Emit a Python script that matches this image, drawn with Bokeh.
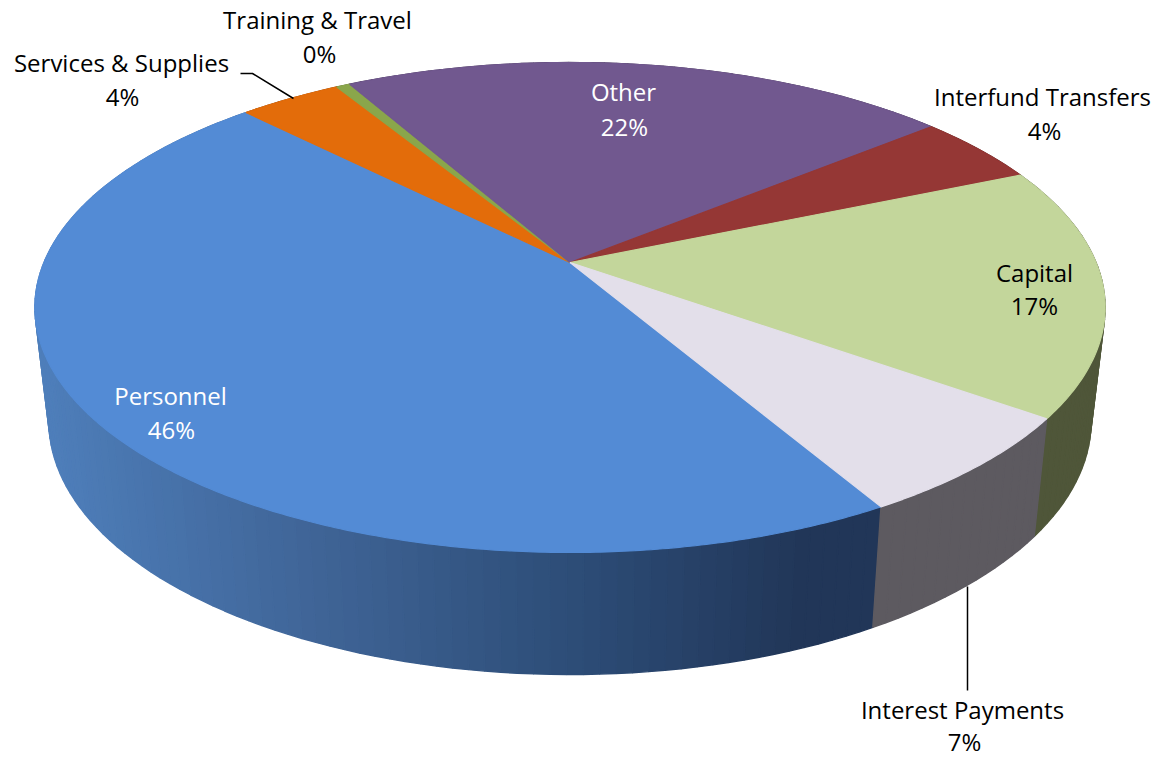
import math
from bokeh.plotting import figure
from bokeh.models import Range1d, ColumnDataSource
from bokeh.core.properties import value
from bokeh.embed import file_html
from bokeh.resources import INLINE

# ---- data ----
categories = ["Personnel", "Services & Supplies", "Training & Travel", "Other",
              "Interfund Transfers", "Capital", "Interest Payments"]
shares = [46.0, 3.7, 0.5, 22.0, 4.6, 16.5, 6.7]
percent_labels = ["46%", "4%", "0%", "22%", "4%", "17%", "7%"]

# ---- styles ----
top_colors = ["#538bd5", "#e36c0a", "#8aa64b", "#71588f", "#953735", "#c3d69b", "#e3dfea"]
side_colors = [None, "#8a4006", "#55652d", "#443557", "#5a2120", "#4f5639", "#5d5a60"]
text_colors = ["white", "black", "black", "white", "black", "black", "black"]
name_pos = [(170, 395), (121, 62), (317, 19), (623, 91), (1042, 96), (1034, 272), (962, 709)]
pct_pos = [(171, 429), (122, 96), (319, 53), (624, 126), (1044, 130), (1034, 305), (964, 741)]
FONT = "Open Sans"
FONT_SIZE = "24px"

# ---- projection of the pie's two discs ----
K = 0.1837
CX = 569.5
TOP = dict(a=526.0, b=236.7, cy=262.0)
BOT = dict(a=512.2, b=244.5, cy=374.5)
START = math.radians(29.8)


def project(angle, disc):
    u, v = math.sin(angle), math.cos(angle)
    w = 1 - K * v
    return CX + disc["a"] * u / w, disc["cy"] + disc["b"] * v / w


# personnel side gradient, by screen x
STOPS = [(50, (78, 126, 186)), (320, (63, 100, 150)), (570, (45, 77, 120)),
         (800, (33, 54, 88)), (880, (33, 54, 88))]


def gradient(x):
    if x <= STOPS[0][0]:
        c = STOPS[0][1]
    else:
        c = STOPS[-1][1]
        for (x0, c0), (x1, c1) in zip(STOPS, STOPS[1:]):
            if x0 <= x <= x1:
                t = (x - x0) / (x1 - x0)
                c = tuple(c0[i] + (c1[i] - c0[i]) * t for i in range(3))
                break
    return "#%02x%02x%02x" % tuple(int(round(a)) for a in c)


total = sum(shares)
edges = [START]
for s in shares:
    edges.append(edges[-1] - 2 * math.pi * s / total)

p = figure(width=1165, height=757, x_range=Range1d(0, 1165), y_range=Range1d(757, 0),
           output_backend="svg", toolbar_location=None, min_border=0,
           outline_line_color=None, background_fill_color="white", border_fill_color="white")
p.axis.visible = False
p.grid.visible = False

# side walls: bands joining the top and bottom rims at equal angles
for i, s in enumerate(shares):
    a0, a1 = edges[i], edges[i + 1]
    n = max(2, int(abs(a1 - a0) / math.radians(1.5)))
    xs_all, ys_all, cols = [], [], []
    for j in range(n):
        t0 = a0 + (a1 - a0) * j / n
        t1 = a0 + (a1 - a0) * (j + 1) / n
        pts = [project(t0, TOP), project(t1, TOP), project(t1, BOT), project(t0, BOT)]
        xs = [q[0] for q in pts]
        ys = [q[1] for q in pts]
        xs_all.append(xs)
        ys_all.append(ys)
        cols.append(side_colors[i] or gradient(sum(xs) / 4))
    src = ColumnDataSource(dict(xs=xs_all, ys=ys_all, c=cols))
    p.patches("xs", "ys", source=src, fill_color="c", line_color="c", line_width=1.4)

# top faces
for i, s in enumerate(shares):
    a0, a1 = edges[i], edges[i + 1]
    n = max(4, int(abs(a1 - a0) / math.radians(0.5)))
    pts = [project(a0 + (a1 - a0) * j / n, TOP) for j in range(n + 1)]
    xs = [CX] + [q[0] for q in pts]
    ys = [TOP["cy"]] + [q[1] for q in pts]
    p.patch(xs, ys, fill_color=top_colors[i], line_color=top_colors[i], line_width=1.2)

# leader lines
p.line([240, 252, 293], [73, 73, 98], line_color="black", line_width=1.5)
p.line([967, 967], [586, 690], line_color="black", line_width=1.5)

# labels
for i, name in enumerate(categories):
    for (x, y), txt in ((name_pos[i], name), (pct_pos[i], percent_labels[i])):
        p.text([x], [y], text=[txt], text_color=text_colors[i], text_font=value(FONT),
               text_font_size=FONT_SIZE, text_align="center", text_baseline="middle")

open("out.html", "w").write(file_html(p, INLINE))
